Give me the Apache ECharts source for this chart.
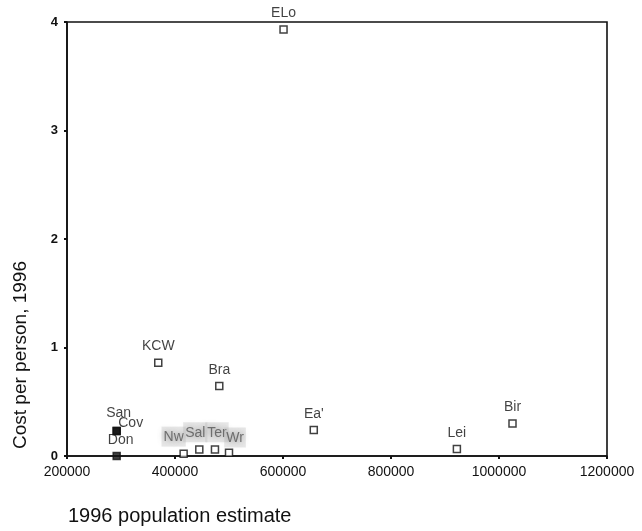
<!DOCTYPE html>
<html>
<head>
<meta charset="utf-8">
<script src="https://cdn.jsdelivr.net/npm/echarts@6/dist/echarts.min.js"></script>
<style>
  html, body { margin: 0; padding: 0; background: #fff; }
  #chart { width: 642px; height: 531px; }
</style>
</head>
<body>
<div id="chart"></div>
<script>
// values
const areaNames = ["ELo", "KCW", "Bra", "Ea'", "Lei", "Bir", "San", "Cov", "Don", "Nw", "Sal", "Ter", "Wr"];
const population = [601000, 369000, 482000, 657000, 922000, 1025000, 292000, 292000, 292000, 416000, 445000, 474000, 500000];
const costPerPerson = [3.93, 0.86, 0.645, 0.24, 0.065, 0.30, 0.23, 0.23, 0.0, 0.02, 0.06, 0.06, 0.03];
const yTicks = [0, 1, 2, 3, 4];

// label nudges and filled markers (styling only)
const labelOffset = { Cov: [14, 8], San: [2, -2], Don: [4, 0], Nw: [-10, 2], Sal: [-4, 2], Ter: [2, 2], Wr: [6, 4] };
const filled = new Set(["San", "Cov", "Don"]);
const blurred = new Set(["Nw", "Sal", "Ter", "Wr"]);

const font = "Liberation Sans, Arial, sans-serif";
const ink = "#111";

const points = areaNames.map((n, i) => {
  const item = { name: n, value: [population[i], costPerPerson[i]] };
  if (filled.has(n)) item.itemStyle = { color: ink };
  const lab = {};
  if (labelOffset[n]) lab.offset = labelOffset[n];
  if (blurred.has(n)) {
    lab.color = "#555";
    lab.textShadowColor = "#666";
    lab.textShadowBlur = 6;
    lab.backgroundColor = "rgba(190,190,190,0.45)";
    lab.padding = [4, 2, 2, 2];
  }
  item.label = lab;
  return item;
});

const chart = echarts.init(document.getElementById("chart"));
chart.setOption({
  backgroundColor: "#fff",
  animation: false,
  grid: { left: 67, right: 35, top: 22, bottom: 75, show: true, borderColor: ink, borderWidth: 1.6, backgroundColor: "transparent" },
  xAxis: {
    type: "value",
    min: 200000,
    max: 1200000,
    interval: 200000,
    axisLine: { lineStyle: { color: ink, width: 1.6 } },
    axisTick: { show: true, length: 3, lineStyle: { color: ink, width: 2 } },
    axisLabel: { color: ink, fontFamily: font, fontSize: 14, margin: 9, formatter: v => String(v) },
    splitLine: { show: false }
  },
  yAxis: {
    type: "value",
    min: 0,
    max: 4,
    interval: 1,
    axisLine: { show: true, lineStyle: { color: ink, width: 1.6 } },
    axisTick: { show: true, length: 3, lineStyle: { color: ink, width: 2 } },
    axisLabel: { color: ink, fontFamily: font, fontSize: 13, fontWeight: "bold", margin: 9,
      formatter: v => yTicks.includes(v) ? String(v) : "" },
    splitLine: { show: false }
  },
  graphic: [
    {
      type: "text",
      left: 11,
      top: 261,
      rotation: Math.PI / 2,
      style: { text: "Cost per person, 1996", fill: ink, font: "19px " + font }
    },
    {
      type: "text",
      left: 68,
      top: 506,
      style: { text: "1996 population estimate", fill: ink, font: "20px " + font }
    }
  ],
  series: [{
    type: "scatter",
    symbol: "rect",
    symbolSize: 7,
    itemStyle: { color: "#fff", borderColor: ink, borderWidth: 1.5 },
    label: {
      show: true,
      position: "top",
      distance: 5,
      formatter: p => p.name,
      color: ink,
      fontFamily: font,
      fontSize: 14
    },
    data: points
  }]
});
</script>
</body>
</html>
